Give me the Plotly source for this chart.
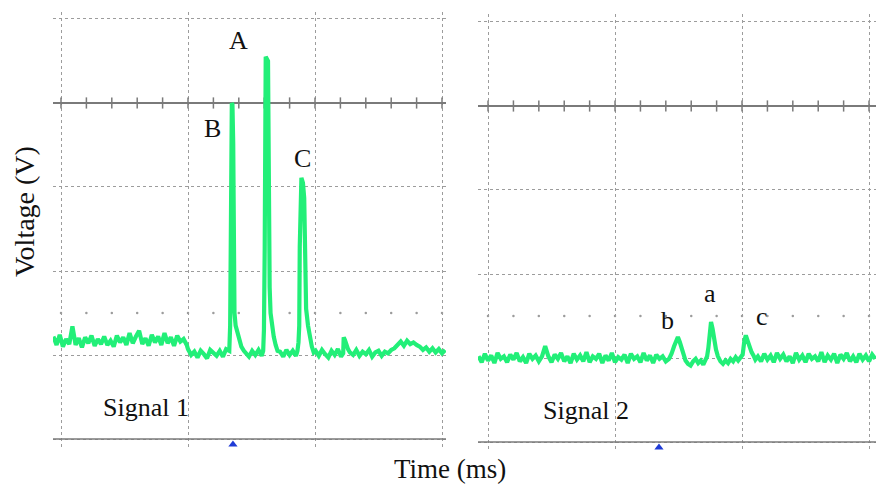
import numpy as np
import plotly.graph_objects as go

# Time in divisions (ms), voltage in divisions (V).
# Baseline stretches are sampled at a fixed step; peaks are listed point by point.
DT = 0.025

# ---------------- Signal 1 ----------------
s1_pre_t0 = -0.06
s1_pre = [1.22, 1.12, 1.24, 1.10, 1.19, 1.13, 1.34, 1.12, 1.20, 1.09,
          1.21, 1.14, 1.23, 1.11, 1.19, 1.13, 1.22, 1.12, 1.17, 1.10,
          1.23, 1.15, 1.21, 1.12, 1.26, 1.14, 1.22, 1.29, 1.13, 1.20,
          1.11, 1.24, 1.15, 1.22, 1.12, 1.26, 1.14, 1.21, 1.11, 1.23,
          1.16, 1.19, 1.12]
s1_low_t0 = 1.0
s1_low = [1.07, 1.00, 1.04, 0.97, 1.05, 1.01, 0.96, 1.06, 1.02, 0.99,
          1.05, 0.98, 1.07]
peak_B_t = [1.325, 1.332, 1.338, 1.345, 1.350, 1.356, 1.360, 1.366, 1.375,
            1.390, 1.405, 1.420, 1.440, 1.460]
peak_B_v = [1.05, 1.35, 2.75, 4.00, 3.98, 3.52, 2.20, 1.50, 1.35,
            1.28, 1.18, 1.10, 1.05, 1.02]
s1_gap1_t0 = 1.48
s1_gap1 = [0.98, 1.05, 1.00, 1.06, 0.99]
peak_A_t = [1.592, 1.598, 1.604, 1.612, 1.630, 1.638, 1.643, 1.650, 1.660,
            1.675, 1.690, 1.705]
peak_A_v = [1.05, 1.30, 2.27, 4.55, 4.50, 2.27, 1.80, 1.50, 1.35,
            1.22, 1.12, 1.05]
s1_gap2_t0 = 1.725
s1_gap2 = [1.04, 0.98, 1.06, 1.00, 1.05, 0.99]
peak_C_t = [1.862, 1.870, 1.876, 1.880, 1.893, 1.905, 1.915, 1.921, 1.924,
            1.930, 1.945, 1.960, 1.975, 1.990]
peak_C_v = [1.05, 1.15, 1.35, 2.29, 3.11, 3.05, 2.87, 2.30, 1.83,
            1.55, 1.35, 1.20, 1.10, 1.03]
s1_gap3_t0 = 2.005
s1_gap3 = [1.05, 0.99, 1.06, 1.01, 0.97, 1.05, 1.00, 1.07, 0.98]
blip_t = [2.222, 2.226, 2.235, 2.245, 2.260, 2.275]
blip_v = [1.02, 1.21, 1.18, 1.12, 1.07, 1.03]
s1_tail_t0 = 2.30
s1_tail = [1.00, 1.06, 0.99, 1.04, 1.01, 1.06, 0.98, 1.03, 1.05, 0.99,
           1.04, 1.02, 1.06, 1.08, 1.12, 1.16, 1.11, 1.17, 1.13, 1.15,
           1.12, 1.10, 1.06, 1.09, 1.04, 1.08, 1.03, 1.07, 1.02, 1.06]

# ---------------- Signal 2 ----------------
s2_pre_t0 = -0.075
s2_pre = [1.02, 0.95, 1.05, 0.97, 1.03, 0.94, 1.06, 0.99, 1.02, 0.95,
          1.04, 0.98, 1.06, 0.96, 1.01, 0.94, 1.05, 0.99, 1.03, 0.96,
          1.02, 1.14, 1.02, 0.95, 1.04, 0.99, 1.06, 0.96, 1.02, 0.94,
          1.05, 0.98, 1.03, 0.96, 1.07, 0.95, 1.02, 0.99, 1.05, 0.94,
          1.03, 0.97, 1.06, 0.95, 1.01, 0.98, 1.04, 0.94, 1.05, 0.99,
          1.02, 0.95, 1.06, 0.97, 1.03, 0.94, 1.04, 0.99, 1.02, 0.96]
peak_b_t = [1.425, 1.445, 1.465, 1.485, 1.495, 1.510, 1.525, 1.540, 1.555,
            1.575, 1.595, 1.615, 1.635, 1.655, 1.675, 1.695, 1.710]
peak_b_v = [0.99, 1.05, 1.14, 1.22, 1.25, 1.19, 1.10, 1.02, 0.97,
            0.93, 0.91, 0.96, 0.99, 0.94, 0.97, 0.92, 0.98]
peak_a_t = [1.725, 1.735, 1.745, 1.756, 1.768, 1.780, 1.795, 1.810, 1.830,
            1.850, 1.870, 1.890, 1.910, 1.930, 1.950, 1.970, 1.990]
peak_a_v = [1.02, 1.12, 1.36, 1.43, 1.35, 1.20, 1.10, 1.02, 0.96,
            0.93, 0.97, 0.94, 0.99, 0.96, 1.01, 0.97, 1.00]
peak_c_t = [2.005, 2.018, 2.030, 2.045, 2.060, 2.075, 2.090, 2.105]
peak_c_v = [1.04, 1.20, 1.27, 1.20, 1.12, 1.07, 1.03, 0.98]
s2_tail_t0 = 2.125
s2_tail = [1.02, 0.96, 1.05, 0.98, 1.03, 0.95, 1.06, 0.99, 1.04, 0.96,
           1.02, 0.94, 1.06, 0.98, 1.03, 0.95, 1.05, 0.99, 1.02, 0.96,
           1.07, 0.95, 1.03, 0.98, 1.05, 0.94, 1.04, 0.99, 1.06, 0.96,
           1.02, 0.95, 1.05, 0.98, 1.03, 0.96, 1.04, 0.99]

# trigger marker position on each time axis
trigger_t = [1.354, 1.346]


def run(t0, vals):
    """Uniformly sampled stretch starting at t0."""
    return list(t0 + DT * np.arange(len(vals))), list(vals)


def join(*pieces):
    t, v = [], []
    for pt, pv in pieces:
        t += list(pt)
        v += list(pv)
    return t, v


s1_t, s1_v = join(run(s1_pre_t0, s1_pre), run(s1_low_t0, s1_low),
                  (peak_B_t, peak_B_v), run(s1_gap1_t0, s1_gap1),
                  (peak_A_t, peak_A_v), run(s1_gap2_t0, s1_gap2),
                  (peak_C_t, peak_C_v), run(s1_gap3_t0, s1_gap3),
                  (blip_t, blip_v), run(s1_tail_t0, s1_tail))
s2_t, s2_v = join(run(s2_pre_t0, s2_pre), (peak_b_t, peak_b_v),
                  (peak_a_t, peak_a_v), (peak_c_t, peak_c_v),
                  run(s2_tail_t0, s2_tail))

TRACE = "#22ef78"
GRID = "#9c9c9c"
AXLINE = "#7a7a7a"
FONT = "Liberation Serif"

fig = go.Figure()

panels = [("x", "y", s1_t, s1_v, trigger_t[0]), ("x2", "y2", s2_t, s2_v, trigger_t[1])]
minor_x = [i * 0.2 for i in range(0, 16)]

for xa, ya, t, v, trig in panels:
    # graticule: solid centre line with minor ticks, bottom line, dotted row of dots
    fig.add_trace(go.Scatter(x=[-0.2, 3.2], y=[4, 4], mode="lines", xaxis=xa, yaxis=ya,
                             line=dict(color=AXLINE, width=2), hoverinfo="skip"))
    fig.add_trace(go.Scatter(x=[-0.2, 3.2], y=[0, 0], mode="lines", xaxis=xa, yaxis=ya,
                             line=dict(color=AXLINE, width=1.5), hoverinfo="skip"))
    fig.add_trace(go.Scatter(x=minor_x, y=[4] * len(minor_x), mode="markers",
                             xaxis=xa, yaxis=ya, hoverinfo="skip",
                             marker=dict(symbol="line-ns-open", size=8, color=AXLINE,
                                         line=dict(color=AXLINE, width=1.5))))
    fig.add_trace(go.Scatter(x=minor_x, y=[1.5] * len(minor_x), mode="markers",
                             xaxis=xa, yaxis=ya, hoverinfo="skip",
                             marker=dict(symbol="circle", size=2.5, color=GRID)))
    # the signal
    fig.add_trace(go.Scatter(x=t, y=v, mode="lines", xaxis=xa, yaxis=ya,
                             line=dict(color=TRACE, width=4.2)))
    # trigger marker
    fig.add_trace(go.Scatter(x=[trig], y=[-0.065], mode="markers", xaxis=xa, yaxis=ya,
                             marker=dict(symbol="triangle-up", size=8, color="#1f3bd6")))

axis_common = dict(showticklabels=False, ticks="", zeroline=False, showline=False,
                   showgrid=True, gridcolor=GRID, griddash="dot", gridwidth=1.2,
                   tickmode="linear", tick0=0, dtick=1, fixedrange=True)

W, H = 876, 485
fig.update_layout(
    width=W, height=H,
    margin=dict(l=0, r=0, t=0, b=0),
    paper_bgcolor="white", plot_bgcolor="white",
    showlegend=False,
    xaxis=dict(domain=[53 / W, 446 / W], range=[-0.063, 3.0315], anchor="y", **axis_common),
    yaxis=dict(domain=[1 - 448 / H, 1 - 12 / H], range=[-0.107, 5.083], anchor="x", **axis_common),
    xaxis2=dict(domain=[478 / W, 1.0], range=[-0.079, 3.055], anchor="y2", **axis_common),
    yaxis2=dict(domain=[1 - 451 / H, 1 - 14 / H], range=[-0.107, 5.095], anchor="x2", **axis_common),
)

labels = [
    ("x", "y", 1.40, 4.74, "A"),
    ("x", "y", 1.19, 3.70, "B"),
    ("x", "y", 1.90, 3.34, "C"),
    ("x", "y", 0.67, 0.37, "Signal 1"),
    ("x2", "y2", 1.75, 1.77, "a"),
    ("x2", "y2", 1.41, 1.45, "b"),
    ("x2", "y2", 2.16, 1.50, "c"),
    ("x2", "y2", 0.77, 0.38, "Signal 2"),
]
for xr, yr, x, y, s in labels:
    fig.add_annotation(x=x, y=y, xref=xr, yref=yr, text=s, showarrow=False,
                       xanchor="center", yanchor="middle",
                       font=dict(family=FONT, size=26, color="#111111"))

fig.add_annotation(x=450 / W, y=1 - 469 / H, xref="paper", yref="paper",
                   text="Time (ms)", showarrow=False, xanchor="center", yanchor="middle",
                   font=dict(family=FONT, size=27, color="#111111"))
fig.add_annotation(x=24 / W, y=1 - 212 / H, xref="paper", yref="paper",
                   text="Voltage (V)", showarrow=False, textangle=-90,
                   xanchor="center", yanchor="middle",
                   font=dict(family=FONT, size=28, color="#111111"))

fig.write_html("out.html")
